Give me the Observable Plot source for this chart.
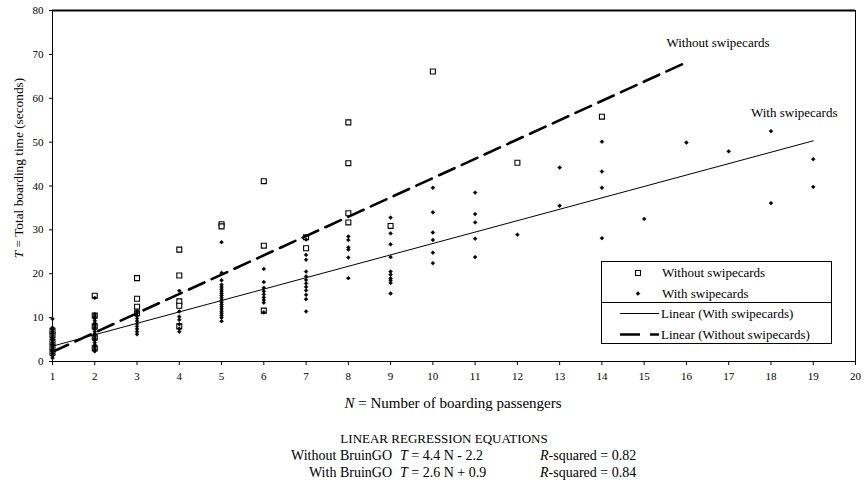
<!DOCTYPE html>
<html><head><meta charset="utf-8">
<script src="https://cdn.jsdelivr.net/npm/d3@7"></script>
<script src="https://cdn.jsdelivr.net/npm/@observablehq/plot@0.6"></script>
<style>
body{margin:0;background:#fff;font-family:"Liberation Serif","Times New Roman",serif;color:#000}
#wrap{position:relative;width:868px;height:491px;overflow:hidden}
.cap{position:absolute;font-size:14px;line-height:17px;white-space:nowrap}
#legend{position:absolute;left:601px;top:261px;width:231px;height:83px;box-sizing:border-box;border:1px solid #000;background:#fff}
#legend .sep{position:absolute;left:0;right:0;top:40px;border-top:1px solid #000}
#legend .lt{position:absolute;font-size:13px;line-height:16px;white-space:nowrap}
#legend svg{position:absolute;left:-1px;top:-1px}
</style></head><body><div id="wrap"></div>
<script>
// ---- data ----
const xTicks = [1,2,3,4,5,6,7,8,9,10,11,12,13,14,15,16,17,18,19,20];
const yTicks = [0,10,20,30,40,50,60,70,80];

// [N, T] pairs — without swipecards (hollow squares)
const withoutSwipecards = [
  [1,2.0],[1,3.2],[1,4.5],[1,6.0],[1,7.0],
  [2,15.0],[2,10.5],[2,8.0],[2,5.5],[2,3.0],
  [3,19.0],[3,14.3],[3,12.5],[3,11.0],
  [4,25.5],[4,19.6],[4,13.7],[4,12.7],[4,8.0],
  [5,31.3],[5,30.8],
  [6,41.1],[6,26.4],[6,11.6],
  [7,28.3],[7,25.8],
  [8,54.5],[8,45.2],[8,33.8],[8,31.7],
  [9,30.9],
  [10,66.1],
  [12,45.3],
  [14,55.8]
];
// [N, T] pairs — with swipecards (filled diamonds)
const withSwipecards = [
  [1,0.8],[1,1.3],[1,1.8],[1,2.3],[1,2.8],[1,3.3],[1,3.8],[1,4.3],[1,4.8],[1,5.3],[1,5.8],[1,6.3],[1,6.8],[1,7.3],[1,7.7],[1,9.7],
  [2,2.3],[2,2.8],[2,3.3],[2,3.8],[2,4.3],[2,4.8],[2,5.3],[2,5.8],[2,6.3],[2,6.8],[2,7.3],[2,7.8],[2,8.3],[2,8.8],[2,9.3],[2,9.8],[2,10.3],[2,10.8],[2,14.5],
  [3,6.2],[3,6.8],[3,7.4],[3,8.0],[3,8.6],[3,9.2],[3,9.8],[3,10.4],[3,11.0],[3,11.4],
  [4,6.8],[4,7.5],[4,8.5],[4,9.5],[4,10.2],[4,11.4],[4,16.1],
  [5,27.2],[5,20.2],[5,18.5],[5,17.5],[5,17.0],[5,16.5],[5,16.0],[5,15.5],[5,15.0],[5,14.5],[5,14.0],[5,13.5],[5,13.0],[5,12.5],[5,12.0],[5,11.5],[5,11.0],[5,10.5],[5,10.0],[5,9.2],
  [6,21.1],[6,18.1],[6,16.8],[6,16.0],[6,15.3],[6,14.6],[6,14.0],[6,13.4],[6,11.2],
  [7,27.8],[7,24.3],[7,23.2],[7,20.5],[7,19.4],[7,18.6],[7,17.8],[7,17.0],[7,16.2],[7,15.2],[7,14.2],[7,11.4],
  [8,28.5],[8,27.7],[8,26.0],[8,25.5],[8,23.7],[8,19.0],
  [9,32.8],[9,29.2],[9,26.7],[9,23.8],[9,20.5],[9,19.8],[9,19.0],[9,18.5],[9,17.9],[9,15.5],
  [10,39.6],[10,34.0],[10,29.4],[10,27.7],[10,24.8],[10,22.4],
  [11,38.5],[11,33.6],[11,31.7],[11,28.0],[11,23.8],
  [12,28.9],
  [13,44.2],[13,35.5],
  [14,50.1],[14,43.3],[14,39.6],[14,28.1],
  [15,32.5],
  [16,49.9],
  [17,47.9],
  [18,52.5],[18,36.1],
  [19,46.1],[19,39.8]
];

// regression equations
const groups      = ["Without BruinGO", "With BruinGO"];
const lineLabels  = ["Without swipecards", "With swipecards"];
const slopes      = [4.4, 2.6];
const intercepts  = [-2.2, 0.9];
const rSquared    = [0.82, 0.84];
const lineRanges  = [[1,16],[1,19]];

// ---- build ----
const toRows = arr => arr.map(([n,t]) => ({n, t}));
const lineData = i => lineRanges[i].map(n => ({n, t: slopes[i]*n + intercepts[i]}));
const withoutLine = lineData(0), withLine = lineData(1);

const SQ_R = 2.8, DI_R = 1.7;
const FONT = "'Liberation Serif', 'Times New Roman', serif";

const plot = Plot.plot({
  width: 868, height: 420,
  marginTop: 10, marginRight: 13, marginBottom: 59, marginLeft: 52,
  style: {fontFamily: FONT, fontSize: "11px", background: "white", color: "black"},
  x: {domain: [1,20], ticks: xTicks, label: null, tickSize: 4, tickPadding: 7},
  y: {domain: [0,80], ticks: yTicks, label: null, tickSize: 3, tickPadding: 6},
  marks: [
    Plot.frame({stroke: "black", strokeWidth: 1}),
    Plot.ruleY([80], {stroke: "black", strokeWidth: 1.8}),
    Plot.dot(toRows(withoutSwipecards), {x: "n", y: "t", symbol: "square", r: SQ_R, fill: "white", stroke: "black", strokeWidth: 1.1}),
    Plot.dot(toRows(withSwipecards), {x: "n", y: "t", symbol: "diamond2", r: DI_R, fill: "black", stroke: "black", strokeWidth: 0.6}),
    Plot.line(withLine, {x: "n", y: "t", stroke: "black", strokeWidth: 1}),
    Plot.line(withoutLine, {x: "n", y: "t", stroke: "black", strokeWidth: 2.6, strokeDasharray: "17,8"}),
    Plot.text([withoutLine[withoutLine.length-1]], {x: "n", y: "t", text: () => lineLabels[0], textAnchor: "start", dx: -20, dy: -19, fontSize: 13}),
    Plot.text([withLine[withLine.length-1]], {x: "n", y: "t", text: () => lineLabels[1], textAnchor: "middle", dx: -19, dy: -28, fontSize: 13})
  ]
});

const svg = d3.select(plot);

// axis titles with italic variable names
const yl = svg.append("text").attr("transform", "translate(18,168) rotate(-90)")
  .attr("text-anchor", "middle").attr("dominant-baseline", "central")
  .attr("font-size", 13.3).attr("fill", "black");
yl.append("tspan").attr("font-style", "italic").text("T");
yl.append("tspan").text(" = Total boarding time (seconds)");

const xl = svg.append("text").attr("x", 453).attr("y", 403)
  .attr("text-anchor", "middle").attr("dominant-baseline", "central")
  .attr("font-size", 15).attr("fill", "black");
xl.append("tspan").attr("font-style", "italic").text("N");
xl.append("tspan").text(" = Number of boarding passengers");

const wrap = document.getElementById("wrap");
wrap.appendChild(plot);

// legend (HTML box with small SVG swatches)
const legend = document.createElement("div");
legend.id = "legend";
wrap.appendChild(legend);
const sep = document.createElement("div"); sep.className = "sep"; legend.appendChild(sep);
const rowsY = [12, 32.5, 52.5, 73.5];
const sw = d3.select(legend).append("svg").attr("width", 231).attr("height", 83);
sw.append("path").attr("transform", `translate(37,${rowsY[0]})`)
  .attr("d", d3.symbol(d3.symbolSquare, Math.PI*SQ_R*SQ_R)()).attr("fill", "white").attr("stroke", "black").attr("stroke-width", 1.1);
sw.append("path").attr("transform", `translate(37,${rowsY[1]})`)
  .attr("d", d3.symbol(d3.symbolDiamond2, Math.PI*DI_R*DI_R)()).attr("fill", "black").attr("stroke", "black").attr("stroke-width", 0.6);
sw.append("line").attr("x1", 19).attr("x2", 58).attr("y1", rowsY[2]).attr("y2", rowsY[2]).attr("stroke", "black").attr("stroke-width", 1);
sw.append("line").attr("x1", 19).attr("x2", 58).attr("y1", rowsY[3]).attr("y2", rowsY[3]).attr("stroke", "black").attr("stroke-width", 2.6).attr("stroke-dasharray", "20,10");
const legendTexts = [lineLabels[0], lineLabels[1], `Linear (${lineLabels[1]})`, `Linear (${lineLabels[0]})`];
legendTexts.forEach((t, i) => {
  const s = document.createElement("div");
  s.className = "lt";
  s.textContent = t;
  s.style.left = (i < 2 ? 60 : 59) + "px";
  s.style.top = (rowsY[i] - 1 - 8) + "px";
  legend.appendChild(s);
});

// caption: regression equations
function cap(text, left, top, opts = {}) {
  const d = document.createElement("div");
  d.className = "cap";
  d.innerHTML = text;
  d.style.top = top + "px";
  if (opts.size) d.style.fontSize = opts.size + "px";
  if (opts.right !== undefined) { d.style.right = opts.right + "px"; }
  else if (opts.center) { d.style.left = left + "px"; d.style.transform = "translateX(-50%)"; }
  else d.style.left = left + "px";
  wrap.appendChild(d);
}
cap("LINEAR REGRESSION EQUATIONS", 444, 429.5, {center: true, size: 13});
groups.forEach((g, i) => {
  const top = 446.5 + i*17;
  const sign = intercepts[i] < 0 ? "-" : "+";
  cap(g, 0, top, {right: 868 - 392});
  cap(`<i>T</i> = ${slopes[i].toFixed(1)} N ${sign} ${Math.abs(intercepts[i]).toFixed(1)}`, 400, top);
  cap(`<i>R</i>-squared = ${rSquared[i].toFixed(2)}`, 540, top);
});
</script>
</body></html>
